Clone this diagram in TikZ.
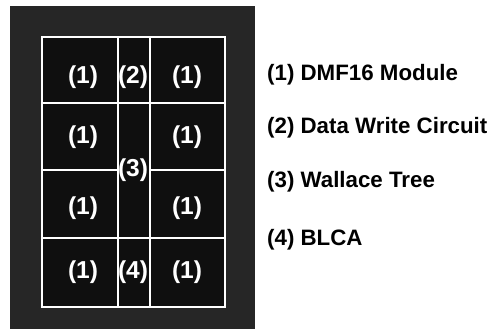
\documentclass[tikz,border=0pt]{standalone}
\usepackage{fontspec}
\setmainfont{Liberation Sans}
\begin{document}
\begin{tikzpicture}[x=1pt,y=-1pt,
  cell/.style={draw=white,line width=1.6pt,fill=black!94,inner sep=0pt,minimum width=#1},
  lab/.style={text=white,font=\bfseries\fontsize{24.5}{25}\selectfont,inner sep=0pt},
  legend/.style={anchor=west,text=black,font=\bfseries\fontsize{22.3}{23}\selectfont,inner sep=0pt}]
\useasboundingbox (0,0) rectangle (490,332);
\fill[black!85] (10,6) rectangle (255,329);
% left column
\node[cell=76pt,minimum height=66pt] (l1) at (80,70) {};
\node[cell=76pt,minimum height=67pt] (l2) at (80,136.5) {};
\node[cell=76pt,minimum height=68pt] (l3) at (80,204) {};
\node[cell=76pt,minimum height=69pt] (l4) at (80,272.5) {};
% right column
\node[cell=75pt,minimum height=66pt] (r1) at (187.5,70) {};
\node[cell=75pt,minimum height=67pt] (r2) at (187.5,136.5) {};
\node[cell=75pt,minimum height=68pt] (r3) at (187.5,204) {};
\node[cell=75pt,minimum height=69pt] (r4) at (187.5,272.5) {};
% middle column
\node[cell=32pt,minimum height=66pt] (m2) at (134,70) {};
\node[cell=32pt,minimum height=135pt] (m3) at (134,170.5) {};
\node[cell=32pt,minimum height=69pt] (m4) at (134,272.5) {};
% labels
\node[lab] (tl1) at (83,77) {(1)};
\node[lab] (tl2) at (83,137) {(1)};
\node[lab] (tl3) at (83,208) {(1)};
\node[lab] (tl4) at (83,272) {(1)};
\node[lab] (tr1) at (187,77) {(1)};
\node[lab] (tr2) at (187,137) {(1)};
\node[lab] (tr3) at (187,208) {(1)};
\node[lab] (tr4) at (187,272) {(1)};
\node[lab] (tm2) at (133,77) {(2)};
\node[lab] (tm3) at (133,170) {(3)};
\node[lab] (tm4) at (133,272) {(4)};
% legend
\node[legend] (g1) at (267,75) {(1) DMF16 Module};
\node[legend] (g2) at (267,128) {(2) Data Write Circuit};
\node[legend] (g3) at (267,182) {(3) Wallace Tree};
\node[legend] (g4) at (267,240) {(4) BLCA};
\end{tikzpicture}
\end{document}
